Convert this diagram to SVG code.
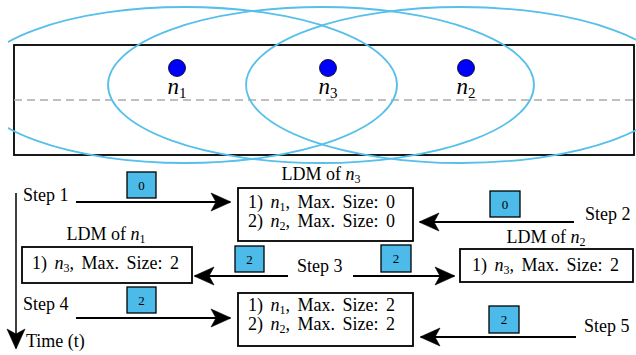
<svg xmlns="http://www.w3.org/2000/svg" width="636" height="355" viewBox="0 0 636 355" font-family="'Liberation Serif', 'DejaVu Serif', serif">
<style>
text{font-family:'Liberation Serif','DejaVu Serif',serif;fill:#000}
.t{font-size:18px}
.it{font-style:italic}
.lbl{font-size:18px;text-anchor:middle}
.box{fill:#fff;stroke:#000;stroke-width:1.8}
.msg{fill:#4cbbe9;stroke:#000;stroke-width:1.3}
.msgt{font-size:13px;text-anchor:middle}
.range{fill:none;stroke:#56bfea;stroke-width:1.8}
.arr{stroke:#000;stroke-width:2;fill:none;marker-end:url(#ah)}
.node{fill:#0000ff;stroke:#000;stroke-width:0.8}
.nl{font-size:23px;font-style:italic;text-anchor:middle}
</style>
<defs>
<marker id="ah" markerUnits="userSpaceOnUse" markerWidth="24" markerHeight="22" refX="0" refY="0" orient="auto" overflow="visible">
<path d="M1,0 L-19,-9 L-14,0 L-19,9 Z" fill="#000" stroke="#000" stroke-width="0.6"/>
</marker>
<clipPath id="cp"><rect x="8" y="0" width="640" height="175"/></clipPath>
</defs>

<g id="area">
<rect x="14" y="45" width="620" height="110" fill="none" stroke="#000" stroke-width="1.8"/>
<line x1="14" y1="100" x2="634" y2="100" stroke="#aaa" stroke-width="1.5" stroke-dasharray="8,5"/>
</g>

<g id="ranges" clip-path="url(#cp)">
<ellipse class="range" cx="185" cy="85" rx="212" ry="78"/>
<ellipse class="range" cx="321" cy="85" rx="213" ry="78"/>
<ellipse class="range" cx="461" cy="85" rx="215" ry="78"/>
</g>

<g id="n1">
<circle class="node" cx="177" cy="68" r="8.5"/>
<text class="nl" x="177" y="94">n<tspan font-size="15" font-style="normal" dy="4">1</tspan></text>
</g>
<g id="n3">
<circle class="node" cx="328" cy="68" r="8.5"/>
<text class="nl" x="328" y="94">n<tspan font-size="15" font-style="normal" dy="4">3</tspan></text>
</g>
<g id="n2">
<circle class="node" cx="466" cy="68" r="8.5"/>
<text class="nl" x="466" y="94">n<tspan font-size="15" font-style="normal" dy="4">2</tspan></text>
</g>

<g id="timeline">
<line x1="16" y1="193" x2="16" y2="348" stroke="#000" stroke-width="1.5" marker-end="url(#ah)"/>
<text class="t" x="26" y="347">Time (t)</text>
</g>

<g id="ldm-n3-a">
<text class="lbl" x="321" y="180">LDM of <tspan class="it">n</tspan><tspan font-size="12" dy="3">3</tspan></text>
<rect class="box" x="238" y="188" width="175" height="53"/>
<text class="t" x="248" y="208" word-spacing="3">1) <tspan class="it">n</tspan><tspan font-size="12" dy="3">1</tspan><tspan dy="-3">, Max. Size: 0</tspan></text>
<text class="t" x="248" y="227" word-spacing="3">2) <tspan class="it">n</tspan><tspan font-size="12" dy="3">2</tspan><tspan dy="-3">, Max. Size: 0</tspan></text>
</g>

<g id="ldm-n1">
<text class="lbl" x="106" y="240">LDM of <tspan class="it">n</tspan><tspan font-size="12" dy="3">1</tspan></text>
<rect class="box" x="22" y="247" width="170" height="36"/>
<text class="t" x="32" y="269" word-spacing="3">1) <tspan class="it">n</tspan><tspan font-size="12" dy="3">3</tspan><tspan dy="-3">, Max. Size: 2</tspan></text>
</g>

<g id="ldm-n2">
<text class="lbl" x="546" y="243">LDM of <tspan class="it">n</tspan><tspan font-size="12" dy="3">2</tspan></text>
<rect class="box" x="460" y="249" width="173" height="33"/>
<text class="t" x="472" y="271" word-spacing="3">1) <tspan class="it">n</tspan><tspan font-size="12" dy="3">3</tspan><tspan dy="-3">, Max. Size: 2</tspan></text>
</g>

<g id="ldm-n3-b">
<rect class="box" x="238" y="293" width="175" height="53"/>
<text class="t" x="248" y="311" word-spacing="3">1) <tspan class="it">n</tspan><tspan font-size="12" dy="3">1</tspan><tspan dy="-3">, Max. Size: 2</tspan></text>
<text class="t" x="248" y="330" word-spacing="3">2) <tspan class="it">n</tspan><tspan font-size="12" dy="3">2</tspan><tspan dy="-3">, Max. Size: 2</tspan></text>
</g>

<g id="steps">
<text class="t" x="23" y="201">Step 1</text>
<text class="t" x="585" y="220">Step 2</text>
<text class="t" x="297" y="272">Step 3</text>
<text class="t" x="23" y="310">Step 4</text>
<text class="t" x="584" y="332">Step 5</text>
</g>

<g id="connectors">
<line class="arr" x1="76" y1="202" x2="230" y2="202"/>
<line class="arr" x1="574" y1="222" x2="420" y2="222"/>
<line class="arr" x1="288" y1="276" x2="195" y2="276"/>
<line class="arr" x1="353" y1="276" x2="454" y2="276"/>
<line class="arr" x1="76" y1="318" x2="230" y2="318"/>
<line class="arr" x1="576" y1="337" x2="421" y2="337"/>
</g>

<g id="messages">
<rect class="msg" x="127" y="172" width="29" height="26"/><text class="msgt" x="141.5" y="190">0</text>
<rect class="msg" x="490" y="191" width="30" height="26"/><text class="msgt" x="505" y="209">0</text>
<rect class="msg" x="235" y="246" width="29" height="26"/><text class="msgt" x="249.5" y="264">2</text>
<rect class="msg" x="381" y="245" width="30" height="27"/><text class="msgt" x="396" y="263">2</text>
<rect class="msg" x="127" y="287" width="29" height="26"/><text class="msgt" x="141.5" y="305">2</text>
<rect class="msg" x="489" y="306" width="30" height="27"/><text class="msgt" x="504" y="324">2</text>
</g>
</svg>
